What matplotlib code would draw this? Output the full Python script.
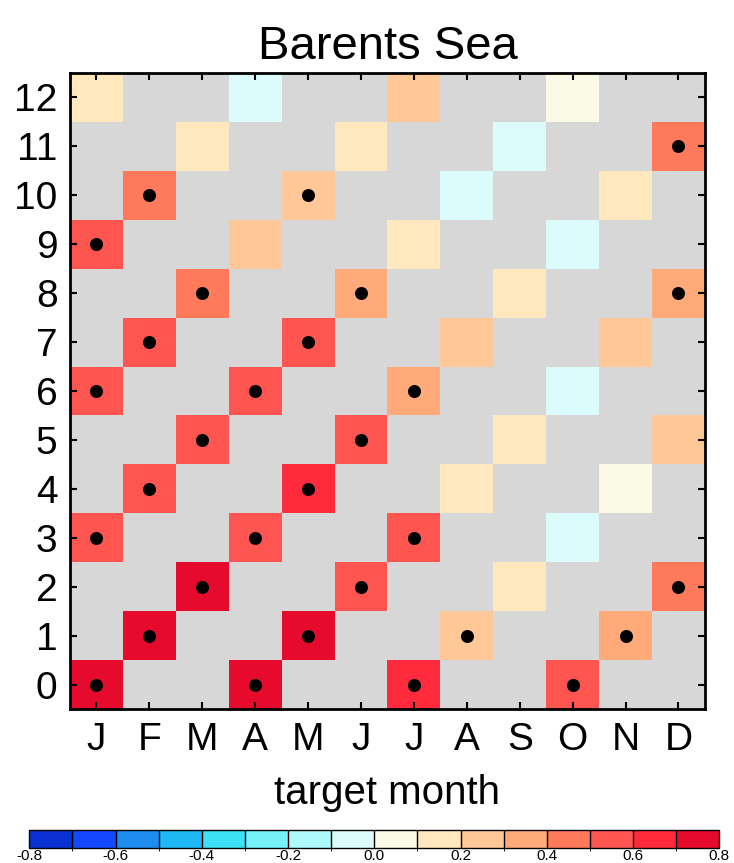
import numpy as np
import matplotlib
matplotlib.use("Agg")
import matplotlib.pyplot as plt
from matplotlib.colors import ListedColormap, BoundaryNorm

plt.rcParams["font.family"] = ["Liberation Sans", "DejaVu Sans"]

# target months and lead times
months = ["J", "F", "M", "A", "M", "J", "J", "A", "S", "O", "N", "D"]
leads = list(range(13))

# correlation per target month: {lead: value}
corr = {
    0: {0: 0.75, 3: 0.55, 6: 0.55, 9: 0.55, 12: 0.15},
    1: {1: 0.75, 4: 0.55, 7: 0.55, 10: 0.45},
    2: {2: 0.75, 5: 0.55, 8: 0.45, 11: 0.15},
    3: {0: 0.75, 3: 0.55, 6: 0.55, 9: 0.25, 12: -0.05},
    4: {1: 0.75, 4: 0.65, 7: 0.55, 10: 0.25},
    5: {2: 0.55, 5: 0.55, 8: 0.35, 11: 0.15},
    6: {0: 0.65, 3: 0.55, 6: 0.35, 9: 0.15, 12: 0.25},
    7: {1: 0.25, 4: 0.15, 7: 0.25, 10: -0.05},
    8: {2: 0.15, 5: 0.15, 8: 0.15, 11: -0.05},
    9: {0: 0.55, 3: -0.05, 6: -0.05, 9: -0.05, 12: 0.05},
    10: {1: 0.35, 4: 0.05, 7: 0.25, 10: 0.15},
    11: {2: 0.45, 5: 0.25, 8: 0.35, 11: 0.45},
}

# significant cells (month index, lead)
sig = {
    0: [0, 3, 6, 9], 1: [1, 4, 7, 10], 2: [2, 5, 8], 3: [0, 3, 6],
    4: [1, 4, 7, 10], 5: [2, 5, 8], 6: [0, 3, 6], 7: [1],
    9: [0], 10: [1], 11: [2, 8, 11],
}

levels = np.round(np.arange(-0.8, 0.81, 0.1), 2)
level_labels = ["-0.8", "-0.6", "-0.4", "-0.2", "0.0", "0.2", "0.4", "0.6", "0.8"]
colors = ["#0a32d2", "#1448ff", "#1e8cf0", "#1eb9f5", "#3ce1f5", "#78f0fa",
          "#aefafa", "#dcfcfc", "#fafae6", "#ffe8be", "#ffc896", "#ffaa78",
          "#ff7a5a", "#ff5550", "#ff2a3c", "#e60a2d"]
cmap = ListedColormap(colors)
norm = BoundaryNorm(levels, cmap.N)

grid = np.full((len(leads), len(months)), np.nan)
for m, d in corr.items():
    for lead, v in d.items():
        grid[lead, m] = v

fig = plt.figure(figsize=(7.34, 8.63), dpi=100)
ax = fig.add_axes([0.0954, 0.1784, 0.865, 0.737])
ax.set_facecolor("#d7d7d7")
x_edges = np.arange(len(months) + 1) - 0.5
y_edges = np.arange(len(leads) + 1) - 0.5
mesh = ax.pcolormesh(x_edges, y_edges, np.ma.masked_invalid(grid),
                     cmap=cmap, norm=norm)

sx = [m for m, ls in sig.items() for _ in ls]
sy = [lead for ls in sig.values() for lead in ls]
ax.scatter(sx, sy, s=70, color="black", zorder=3)

ax.set_xlim(-0.5, 11.5)
ax.set_ylim(-0.5, 12.5)
ax.set_xticks(range(len(months)))
ax.set_xticklabels(months)
ax.set_yticks(leads)
ax.tick_params(direction="in", length=5, width=1.5, labelsize=28,
               top=True, right=True, pad=9)
for s in ax.spines.values():
    s.set_linewidth(2)
ax.set_title("Barents Sea", fontsize=34, pad=10)
ax.set_xlabel("target month", fontsize=29, labelpad=12)

cax = fig.add_axes([0.040, 0.0174, 0.940, 0.021])
cb = fig.colorbar(mesh, cax=cax, orientation="horizontal", drawedges=True,
                  ticks=levels[::2])
cb.ax.set_xticklabels(level_labels)
cb.ax.tick_params(length=0, labelsize=11, pad=1)
cb.outline.set_linewidth(1)
cb.dividers.set_linewidth(1)

fig.savefig("out.png", dpi=100)
